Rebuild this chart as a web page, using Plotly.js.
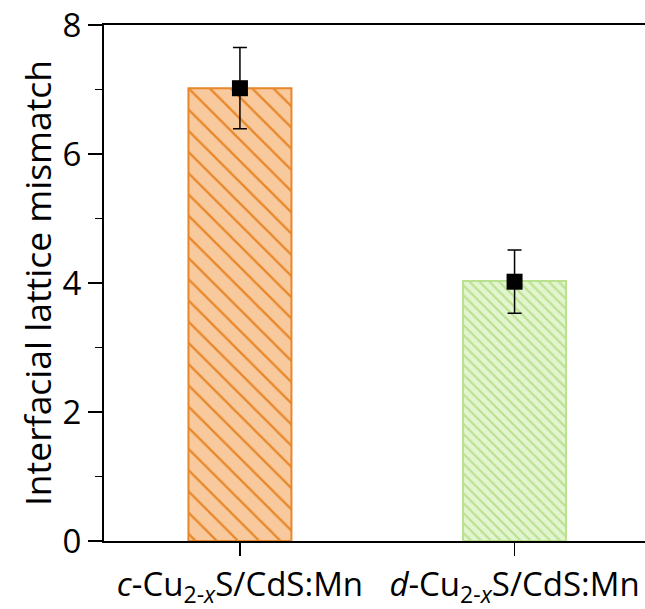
<!DOCTYPE html>
<html>
<head>
<meta charset="utf-8">
<script src="https://cdn.plot.ly/plotly-3.0.1.min.js"></script>
<style>html,body{margin:0;padding:0;background:#fff;overflow:hidden;}</style>
</head>
<body>
<div id="chart" style="width:645px;height:609px;"></div>
<script>
const categories = ["<i>c</i>-Cu<sub>2-<i>x</i></sub>S/CdS:Mn", "<i>d</i>-Cu<sub>2-<i>x</i></sub>S/CdS:Mn"];
const xpos = [0, 1];
const barValues = [7.02, 4.03];
const meanValues = [7.02, 4.02];
const errValues = [0.63, 0.49];
const fillColors = ["#f8c99c", "#e3f5cf"];
const lineColors = ["#e8872a", "#b9e18f"];

const font = "'Open Sans', 'Noto Sans', sans-serif";

const traces = [
  {
    type: "bar",
    x: [xpos[0]], y: [barValues[0]], width: 0.375,
    marker: {
      color: fillColors[0],
      line: {color: lineColors[0], width: 2},
      pattern: {shape: "\\", fgcolor: lineColors[0], bgcolor: fillColors[0], size: 15, solidity: 0.15, fillmode: "replace"}
    },
    hoverinfo: "skip", showlegend: false
  },
  {
    type: "bar",
    x: [xpos[1]], y: [barValues[1]], width: 0.375,
    marker: {
      color: fillColors[1],
      line: {color: lineColors[1], width: 2},
      pattern: {shape: "\\", fgcolor: lineColors[1], bgcolor: fillColors[1], size: 7, solidity: 0.3, fillmode: "replace"}
    },
    hoverinfo: "skip", showlegend: false
  },
  {
    type: "scatter", mode: "markers",
    x: xpos, y: meanValues,
    marker: {symbol: "square", size: 16, color: "#000"},
    error_y: {type: "data", array: errValues, visible: true, color: "#000", thickness: 1.5, width: 7},
    showlegend: false
  }
];

const layout = {
  width: 645, height: 609,
  margin: {l: 104, r: 0, t: 25, b: 68},
  paper_bgcolor: "#fff", plot_bgcolor: "#fff",
  barmode: "overlay",
  font: {family: font, color: "#000", size: 30},
  xaxis: {
    range: [-0.495, 1.475],
    tickvals: xpos, ticktext: categories,
    ticks: "outside", ticklen: 13, tickwidth: 1.5, tickcolor: "#000",
    showline: true, linecolor: "#000", linewidth: 2, mirror: true,
    showgrid: false, zeroline: false,
    tickfont: {family: font, size: 33}
  },
  yaxis: {
    range: [0, 8],
    tickvals: [0, 2, 4, 6, 8],
    ticks: "outside", ticklen: 14, tickwidth: 1.5, tickcolor: "#000",
    minor: {tickvals: [1, 3, 5, 7], ticks: "outside", ticklen: 7, tickwidth: 1.5, tickcolor: "#000"},
    showline: true, linecolor: "#000", linewidth: 2, mirror: false,
    showgrid: false, zeroline: false,
    tickfont: {family: font, size: 33},
    title: {text: "Interfacial lattice mismatch", font: {family: font, size: 35.5}, standoff: 0}
  }
};

Plotly.newPlot("chart", traces, layout, {displayModeBar: false, staticPlot: true});
</script>
</body>
</html>
